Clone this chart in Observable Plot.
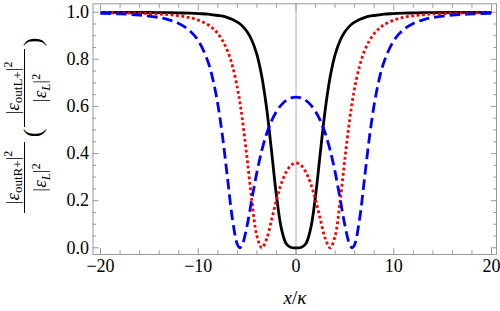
<!DOCTYPE html>
<html><head><meta charset="utf-8">
<script src="https://cdn.jsdelivr.net/npm/d3@7"></script>
<script src="https://cdn.jsdelivr.net/npm/@observablehq/plot@0.6"></script>
<style>body{margin:0;background:#fff} svg{display:block} svg text{font-family:"Liberation Serif","Times New Roman",Times,serif !important}</style>
</head><body><div id="chart"></div>
<script>
const xs = [-20,-18,-16,-14,-13,-12,-11,-10,-9,-8.5,-8,-7.5,-7,-6.5,-6,-5.75,-5.5,-5,-4.5,-4,-3.5,-3,-2.5,-2,-1.5,-1,-0.5,
  0,
  0.5,1,1.5,2,2.5,3,3.5,4,4.5,5,5.5,5.75,6,6.5,7,7.5,8,8.5,9,10,11,12,13,14,16,18,20];
const blackY = [0.9996,0.9995,0.999,0.9985,0.998,0.997,0.996,0.994,0.992,0.989,0.986,0.983,0.977,0.969,0.958,0.951,0.942,0.917,0.879,0.820,0.727,0.590,0.409,0.221,0.0824,0.0174,0.0011,
  0,
  0.0011,0.0174,0.0824,0.221,0.409,0.590,0.727,0.820,0.879,0.917,0.942,0.951,0.958,0.969,0.977,0.983,0.986,0.989,0.992,0.994,0.996,0.997,0.998,0.9985,0.999,0.9995,0.9996];
const redY = [0.9982,0.9973,0.9955,0.9922,0.9893,0.9849,0.9779,0.9665,0.9466,0.931,0.9094,0.8789,0.835,0.7713,0.6789,0.6188,0.5484,0.3786,0.1935,0.0501,0,0.0381,0.1189,0.2033,0.2726,0.3217,0.3505,
  0.36,
  0.3505,0.3217,0.2726,0.2033,0.1189,0.0381,0,0.0501,0.1935,0.3786,0.5484,0.6188,0.6789,0.7713,0.835,0.8789,0.9094,0.931,0.9466,0.9665,0.9779,0.9849,0.9893,0.9922,0.9955,0.9973,0.9982];
const blueY = [0.9955,0.9928,0.9878,0.9774,0.9678,0.9524,0.9263,0.8793,0.7889,0.7141,0.6088,0.4665,0.2924,0.1208,0.0139,0,0.0127,0.0955,0.2106,0.3212,0.4132,0.4849,0.5389,0.5786,0.6068,0.6256,0.6364,
  0.64,
  0.6364,0.6256,0.6068,0.5786,0.5389,0.4849,0.4132,0.3212,0.2106,0.0955,0.0127,0,0.0139,0.1208,0.2924,0.4665,0.6088,0.7141,0.7889,0.8793,0.9263,0.9524,0.9678,0.9774,0.9878,0.9928,0.9955];
const xTicks = [-20,-10,0,10,20];
const xMinor = [-18,-16,-14,-12,-8,-6,-4,-2,2,4,6,8,12,14,16,18];
const yTicks = [0,0.2,0.4,0.6,0.8,1.0];
const yMinor = [0.05,0.1,0.15,0.25,0.3,0.35,0.45,0.5,0.55,0.65,0.7,0.75,0.85,0.9,0.95];

const series = [
  {name:"black", ys: blackY, color:"#000000", dash: null},
  {name:"red", ys: redY, color:"#ff0000", dash: "2.8,2.6"},
  {name:"blue", ys: blueY, color:"#0000ff", dash: "10.5,5"}
];

const FONT = "'Liberation Serif', 'Times New Roman', Times, serif";
const gray = "#999999";
const marks = [
  Plot.frame({stroke: gray, strokeWidth: 1}),
  Plot.ruleX([0], {stroke: gray, strokeWidth: 0.8}),
];
for (const a of ["bottom","top"]) {
  marks.push(Plot.axisX(xTicks, {anchor: a, tickSize: -6, stroke: gray, fill: "none", label: null}));
  marks.push(Plot.axisX(xMinor, {anchor: a, tickSize: -3.5, stroke: gray, fill: "none", label: null}));
}
for (const a of ["left","right"]) {
  marks.push(Plot.axisY(yTicks, {anchor: a, tickSize: -6, stroke: gray, fill: "none", label: null}));
  marks.push(Plot.axisY(yMinor, {anchor: a, tickSize: -3.5, stroke: gray, fill: "none", label: null}));
}
marks.push(Plot.axisX(xTicks, {anchor: "bottom", tickSize: 0, tickPadding: 5, fontSize: 18, label: null, stroke: "none", fill: "#000"}));
marks.push(Plot.axisY(yTicks, {anchor: "left", tickSize: 0, tickPadding: 4, fontSize: 18, label: null, stroke: "none", fill: "#000", tickFormat: d3.format(".1f")}));
for (const s of series) {
  marks.push(Plot.line(xs.map((x, i) => ({x, y: s.ys[i]})), {
    x: "x", y: "y", stroke: s.color, strokeWidth: 2.8, curve: "catmull-rom",
    strokeDasharray: s.dash, strokeLinecap: "butt"
  }));
}

const plot = Plot.plot({
  width: 500, height: 311,
  marginLeft: 92.5, marginRight: 4, marginTop: 3.3, marginBottom: 57,
  style: {fontFamily: FONT, fontSize: "18px", background: "#fff", color: "#000"},
  x: {domain: [-20.77, 20.51]},
  y: {domain: [-0.0284, 1.0357]},
  marks
});
document.getElementById("chart").appendChild(plot);

const svg = d3.select(plot);
const g = svg.append("g").attr("transform", "rotate(-90)")
  .attr("font-family", FONT).attr("fill", "#000");

function fraction(cy, subTxt, half) {
  const num = g.append("text").attr("x", -cy).attr("y", 18.5).attr("text-anchor", "middle").attr("font-size", 19);
  num.append("tspan").text("|");
  num.append("tspan").attr("font-style", "italic").text("ε");
  num.append("tspan").attr("font-size", 13).attr("dy", 3.5).text("out" + subTxt);
  num.append("tspan").attr("dy", -3.5).text("|");
  num.append("tspan").attr("font-size", 12).attr("dy", -6.5).text("2");
  g.append("line").attr("x1", -(cy - half)).attr("x2", -(cy + half)).attr("y1", 24.5).attr("y2", 24.5)
    .attr("stroke", "#000").attr("stroke-width", 1);
  const den = g.append("text").attr("x", -cy).attr("y", 46).attr("text-anchor", "middle").attr("font-size", 19);
  den.append("tspan").text("|");
  den.append("tspan").attr("font-style", "italic").text("ε");
  den.append("tspan").attr("font-style", "italic").attr("font-size", 13).attr("dy", 3.5).text("L");
  den.append("tspan").attr("dy", -3.5).text("|");
  den.append("tspan").attr("font-size", 12).attr("dy", -6.5).text("2");
}
fraction(177.5, "R+", 35.5);
fraction(88, "L+", 39);
g.append("text").attr("x", -133).attr("y", 41).attr("text-anchor", "middle").attr("font-size", 26).text("(");
g.append("text").attr("x", -42).attr("y", 41).attr("text-anchor", "middle").attr("font-size", 26).text(")");

const xl = svg.append("text").attr("x", 295).attr("y", 304).attr("text-anchor", "middle")
  .attr("font-family", FONT).attr("font-size", 19).attr("fill", "#000");
xl.append("tspan").attr("font-style", "italic").text("x");
xl.append("tspan").text("/");
xl.append("tspan").attr("font-style", "italic").text("κ");
</script>
</body></html>
